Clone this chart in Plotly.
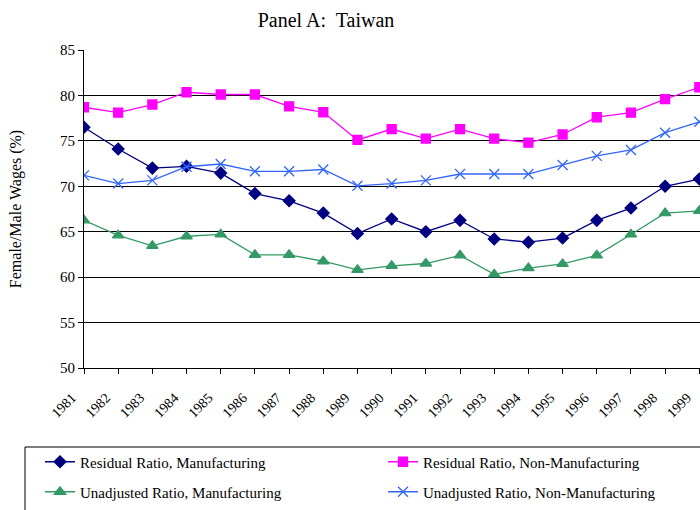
import plotly.graph_objects as go

# Panel A: Taiwan, female/male wage ratios (%)
years = list(range(1981, 2000))

resid_mfg = [76.5, 74.1, 72.0, 72.2, 71.45, 69.2, 68.4, 67.05, 64.8, 66.4,
             65.0, 66.25, 64.2, 63.85, 64.3, 66.25, 67.6, 70.0, 70.8]
resid_nonmfg = [78.7, 78.1, 79.0, 80.35, 80.1, 80.1, 78.8, 78.15, 75.1, 76.3,
                75.25, 76.3, 75.25, 74.8, 75.7, 77.6, 78.1, 79.6, 80.9]
unadj_mfg = [66.25, 64.6, 63.45, 64.5, 64.7, 62.45, 62.45, 61.75, 60.8, 61.25,
             61.5, 62.4, 60.3, 61.0, 61.45, 62.4, 64.7, 67.05, 67.3]
unadj_nonmfg = [71.2, 70.3, 70.65, 72.15, 72.45, 71.65, 71.65, 71.85, 70.05, 70.3,
                70.65, 71.35, 71.35, 71.35, 72.35, 73.35, 74.0, 75.9, 77.1]

serif = "Liberation Serif, Times New Roman, serif"

# (name, values, colour, marker, size, legend id, legend left px, legend row px)
series = [
    ("Residual Ratio, Manufacturing", resid_mfg, "#000080", "diamond", 9, "legend", 40, 462),
    ("Residual Ratio, Non-Manufacturing", resid_nonmfg, "#FF00FF", "square", 9, "legend2", 383, 462),
    ("Unadjusted Ratio, Manufacturing", unadj_mfg, "#339966", "triangle-up", 10, "legend3", 40, 492),
    ("Unadjusted Ratio, Non-Manufacturing", unadj_nonmfg, "#3366FF", "x-thin-open", 10, "legend4", 383, 492),
]

# plot area: x 84..700, y 50..368 px
pw, ph = 616, 318
def px_x(x):
    return (x - 84) / pw
def px_y(y):
    return (368 - y) / ph

fig = go.Figure()
legends = {}
for name, vals, color, sym, size, leg, lx, ly in series:
    fig.add_trace(go.Scatter(
        x=years, y=vals, name=name, mode="lines+markers", legend=leg,
        line=dict(color=color, width=1.3),
        marker=dict(symbol=sym, size=size, color=color,
                    line=dict(color=color, width=1.3)),
    ))
    legends[leg] = dict(x=px_x(lx), y=px_y(ly), xanchor="left", yanchor="middle",
                        bgcolor="rgba(0,0,0,0)", borderwidth=0,
                        font=dict(family=serif, size=15, color="black"))

fig.update_layout(
    width=700, height=510,
    margin=dict(l=84, r=0, t=50, b=142),
    paper_bgcolor="white", plot_bgcolor="white",
    font=dict(family=serif, color="black", size=13),
    title=dict(text="Panel A:  Taiwan", x=326 / 700, xanchor="center",
               y=1 - 20 / 510, yanchor="middle",
               font=dict(family=serif, size=20, color="black")),
    showlegend=True,
    shapes=[dict(type="rect", xref="paper", yref="paper",
                 x0=px_x(25), x1=px_x(720), y0=px_y(447), y1=px_y(530),
                 line=dict(color="black", width=1), layer="below")],
    **legends,
)

fig.update_yaxes(
    range=[50, 85], dtick=5, tickmode="linear", automargin=False,
    showgrid=True, gridcolor="black", gridwidth=1.2,
    showline=True, linecolor="black", linewidth=1,
    ticks="outside", ticklen=5, tickcolor="black",
    tickfont=dict(size=15),
    title=dict(text="Female/Male Wages (%)", font=dict(size=16), standoff=34),
    zeroline=False,
)
fig.update_xaxes(
    range=[1981, 1999.02], tickvals=years, ticktext=[str(y) for y in years],
    tickangle=-45, tickfont=dict(size=14), automargin=False,
    ticklabeloverflow="allow", ticklabelshift=-12, ticklabelstandoff=10,
    showgrid=False, showline=True, linecolor="black", linewidth=1,
    ticks="outside", ticklen=5, tickcolor="black", zeroline=False,
)

fig.write_html("out.html", config={"displayModeBar": False},
               post_script="document.body.style.margin='0';")
